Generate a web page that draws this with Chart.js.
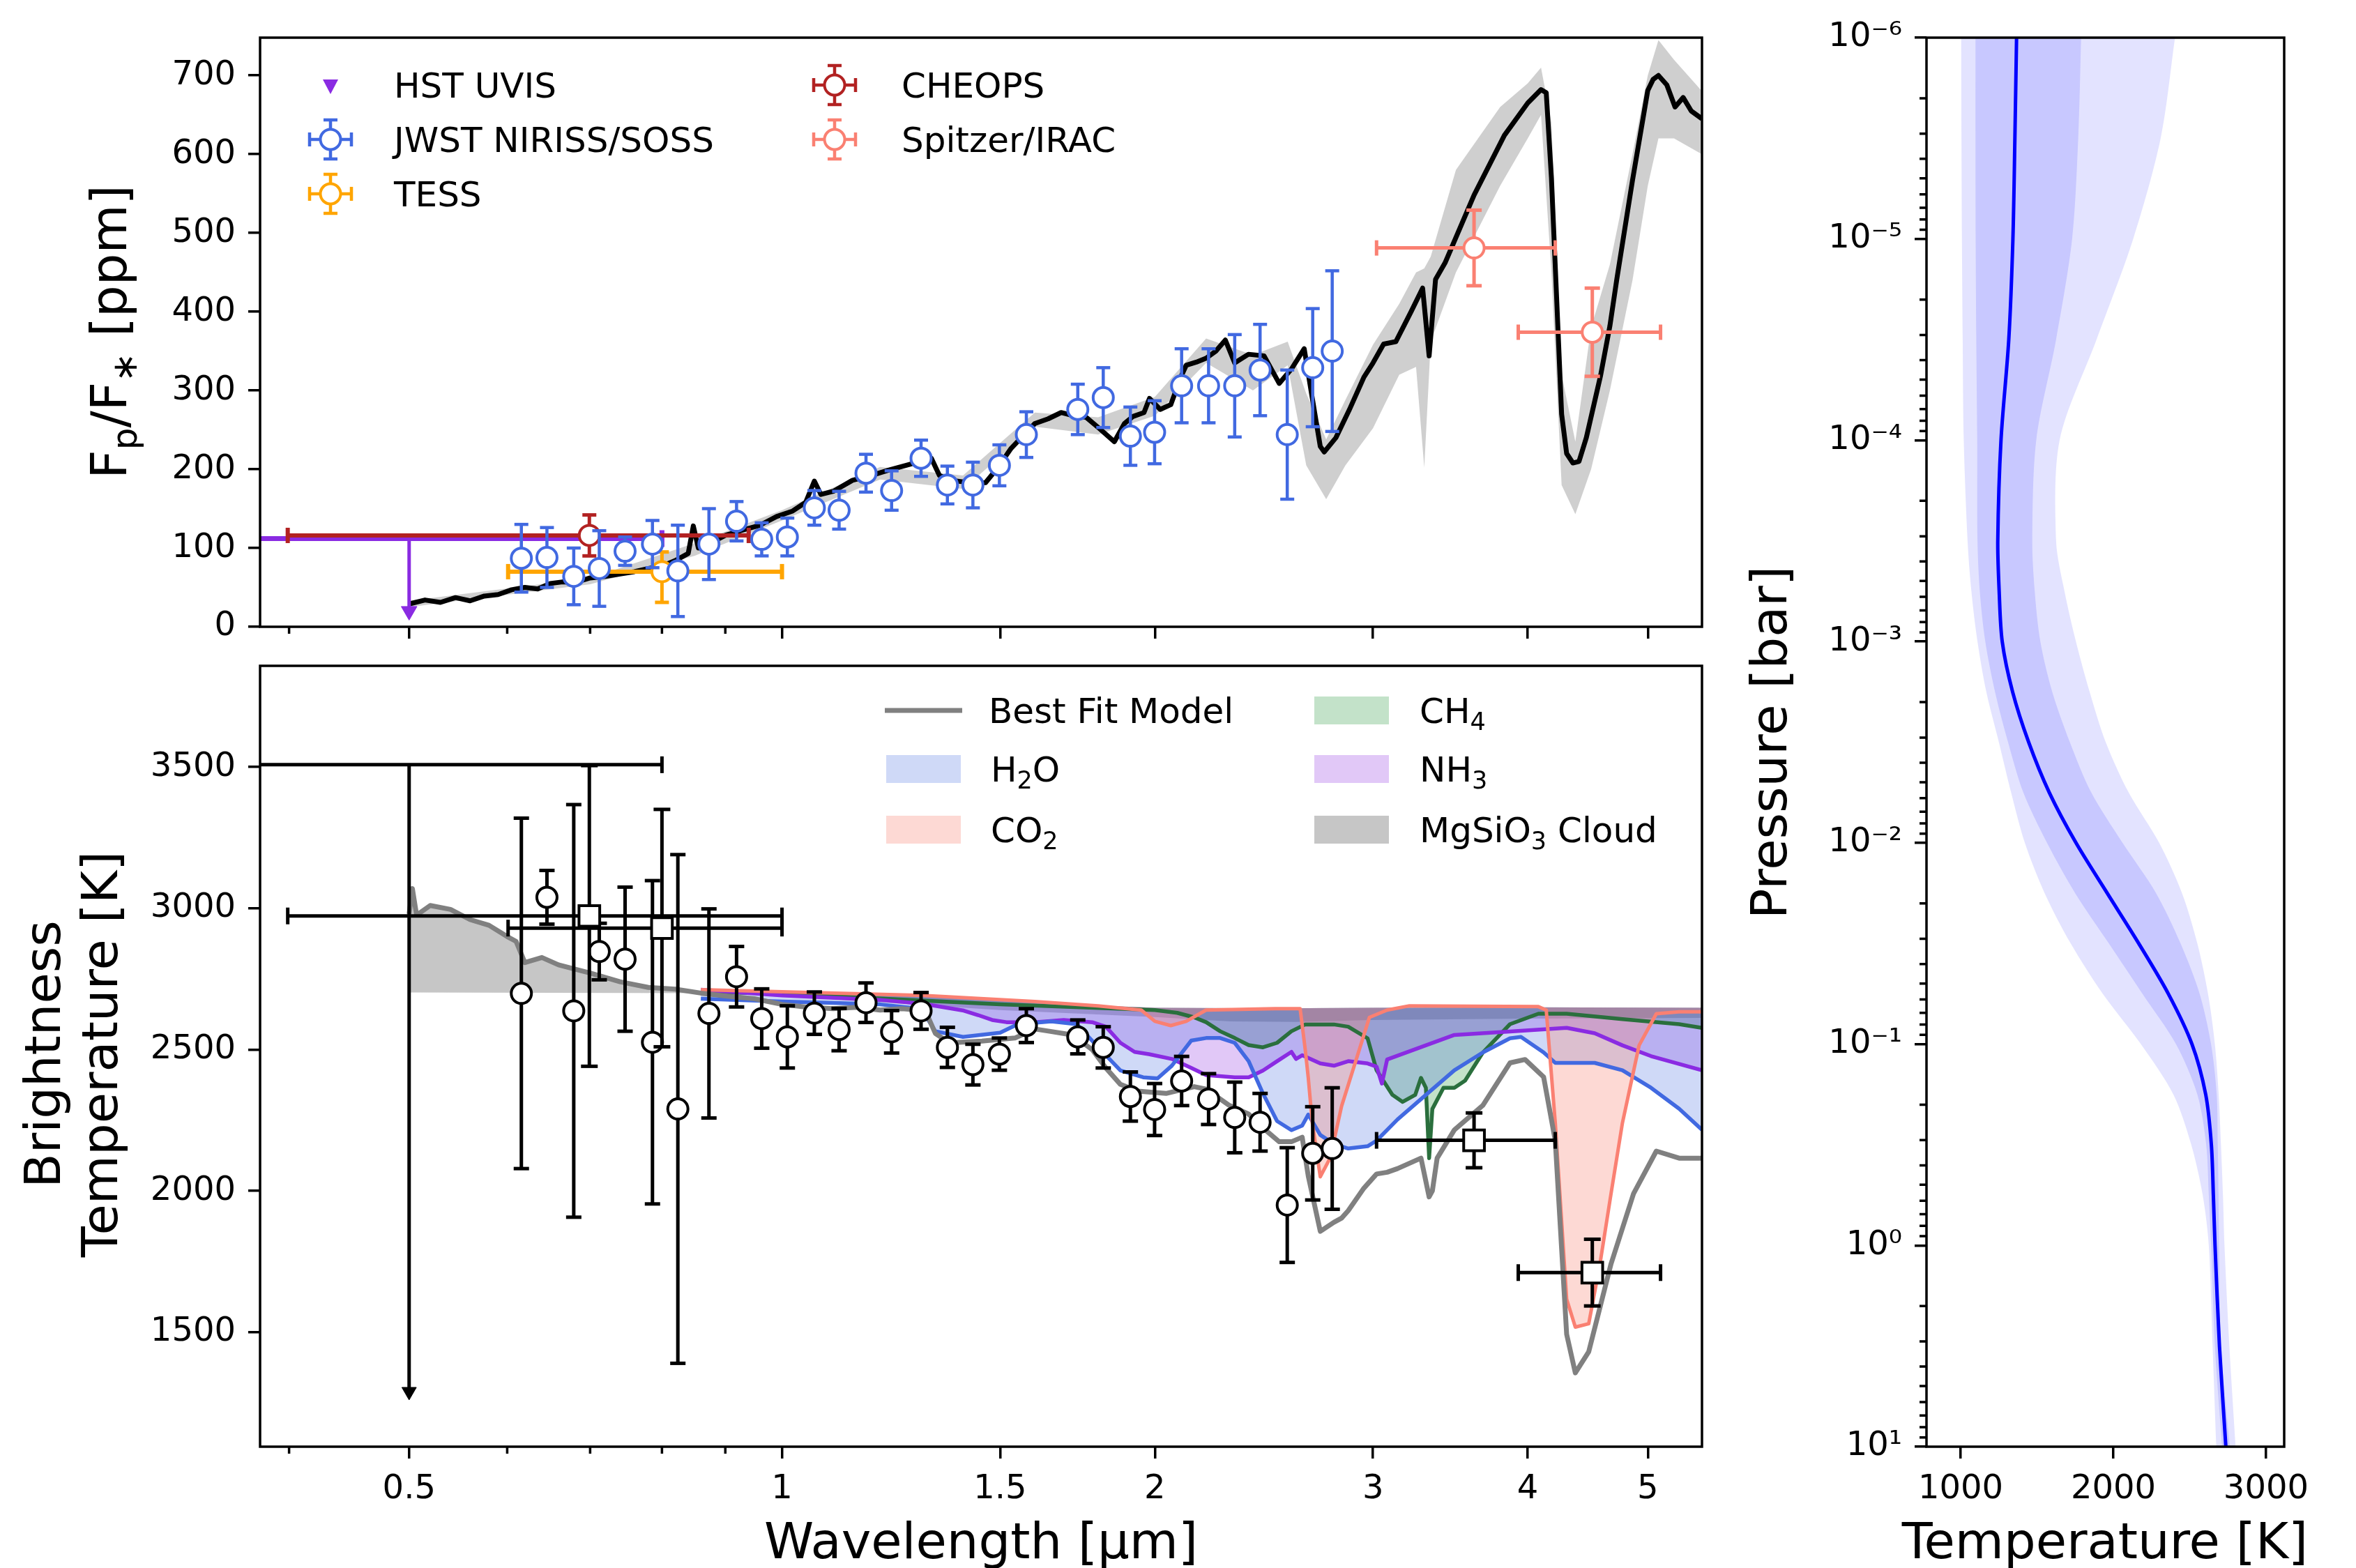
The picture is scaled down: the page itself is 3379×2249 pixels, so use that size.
<!DOCTYPE html>
<html>
<head>
<meta charset="utf-8">
<title>Emission spectrum and P-T profile</title>
<script src="https://cdn.jsdelivr.net/npm/chart.js@4.4.1/dist/chart.umd.min.js"></script>
<style>
  html, body { margin: 0; padding: 0; background: #fff; }
  body { position: relative; width: 3379px; height: 2249px; overflow: hidden; }
  canvas { position: absolute; }
</style>
</head>
<body>
<canvas id="fpChart" width="2480" height="930" style="left:0;top:0"></canvas>
<canvas id="tbChart" width="2480" height="1319" style="left:0;top:930px"></canvas>
<canvas id="ptChart" width="899" height="2249" style="left:2480px;top:0"></canvas>
<script>
// ---------- axes ----------
const xTicks = [0.5, 1, 1.5, 2, 3, 4, 5];
const xTickLabels = ['0.5', '1', '1.5', '2', '3', '4', '5'];
const xMinorTicks = [0.4, 0.6, 0.7, 0.8, 0.9];
const fpTicks = [0, 100, 200, 300, 400, 500, 600, 700];
const tbTicks = [1500, 2000, 2500, 3000, 3500];
const tTicks = [1000, 2000, 3000];
const pTicks = [1e-6, 1e-5, 1e-4, 1e-3, 1e-2, 1e-1, 1, 10];
const pTickLabels = ['10⁻⁶', '10⁻⁵', '10⁻⁴', '10⁻³', '10⁻²', '10⁻¹', '10⁰', '10¹'];

// ---------- top panel: Fp/F* [ppm] ----------
const jwstWl = [0.616,0.646,0.679,0.712,0.747,0.786,0.824,0.873,0.919,0.963,1.010,1.062,1.112,1.169,1.226,1.295,1.360,1.426,1.498,1.575,1.733,1.817,1.911,1.999,2.102,2.210,2.320,2.432,2.558,2.682,2.781];
const jwstFp = [87,88,64,74,96,105,71,105,134,111,114,151,148,195,173,214,180,180,205,244,276,291,242,247,306,306,306,326,244,329,350];
const jwstFpErr = [43,38,36,48,18,30,58,45,25,21,24,22,24,24,25,23,24,29,26,29,32,38,37,40,47,47,65,58,82,75,102];

const hstWl = [0.5], hstWlLo = [0.2], hstWlHi = [0.8];
const hstFpLimit = [112], hstFpArrow = [20];
const cheopsWl = [0.699], cheopsWlLo = [0.399], cheopsWlHi = [0.94];
const cheopsFp = [116], cheopsFpErr = [26];
const tessWl = [0.80], tessWlLo = [0.601], tessWlHi = [1.0];
const tessFp = [70], tessFpLo = [31], tessFpHi = [95];
const spitzerWl = [3.62, 4.51], spitzerWlLo = [3.02, 3.93], spitzerWlHi = [4.21, 5.12];
const spitzerFp = [481, 374], spitzerFpErr = [48, 56];

const modelWl = [0.500,0.515,0.530,0.545,0.560,0.575,0.590,0.605,0.620,0.635,
  0.650,0.665,0.680,0.700,0.720,0.740,0.760,0.780,0.800,0.820,
  0.840,0.848,0.856,0.875,0.900,0.930,0.960,0.990,1.020,1.045,
  1.062,1.075,1.100,1.140,1.180,1.220,1.260,1.300,1.320,1.340,
  1.370,1.400,1.430,1.460,1.490,1.530,1.560,1.600,1.640,1.680,
  1.720,1.760,1.800,1.855,1.890,1.920,1.960,1.980,2.020,2.060,
  2.100,2.120,2.160,2.200,2.240,2.280,2.320,2.380,2.450,2.520,
  2.580,2.640,2.680,2.720,2.740,2.800,2.870,2.950,3.000,3.060,
  3.130,3.220,3.290,3.330,3.370,3.430,3.620,3.830,4.000,4.100,
  4.140,4.180,4.220,4.260,4.300,4.350,4.400,4.460,4.580,4.660,
  4.720,4.860,5.000,5.050,5.100,5.180,5.260,5.340,5.420,5.530];
const modelFp = [29,34,31,37,33,39,41,47,50,48,
  55,57,56,62,64,67,70,74,77,84,
  93,128,100,106,116,123,129,140,147,158,
  185,168,172,186,192,199,205,211,214,192,
  186,184,182,183,200,226,240,258,264,272,
  268,266,253,235,258,267,272,290,276,282,
  318,332,336,341,350,364,335,346,344,309,
  328,353,290,229,222,240,275,317,335,359,
  362,400,430,344,441,462,548,624,665,682,
  678,570,420,270,220,208,210,240,319,382,
  441,567,681,695,700,688,660,672,655,645];

const bandWl = [0.50,0.70,0.85,1.00,1.20,1.40,1.60,1.80,2.00,2.20,2.40,2.56,2.65,2.75,2.85,3.00,3.15,3.25,3.30,3.34,3.50,3.80,4.00,4.10,4.18,4.26,4.37,4.50,4.66,4.86,5.00,5.10,5.25,5.53];
const bandLo = [25,54,90,135,187,175,254,244,268,335,300,332,205,162,205,252,320,330,202,362,450,560,620,650,450,180,143,200,300,440,560,620,620,600];
const bandHi = [33,62,106,148,203,192,272,266,292,366,345,362,296,238,288,358,410,450,455,470,580,660,690,710,640,320,235,380,460,600,700,745,720,680];

// ---------- bottom panel: brightness temperature [K] ----------
const jwstTb = [2699,3039,2637,2847,2820,2526,2290,2628,2758,2610,2545,2629,2571,2666,2563,2637,2508,2447,2484,2585,2545,2508,2334,2288,2389,2325,2260,2243,1950,2133,2150];
const jwstTbErr = [620,95,730,100,255,572,900,370,107,105,110,75,75,70,75,65,71,72,57,60,60,73,87,92,87,90,125,102,203,165,215];

const hstTbLimit = [3508], hstTbArrow = [1290];
const cheopsTb = [2973], cheopsTbErr = [532], cheopsTbWlHi = [1.0];
const tessTb = [2930], tessTbErr = [420];
const spitzerTb = [2179, 1711], spitzerTbErr = [97, 118];

const bestWl = [0.500,0.503,0.507,0.52,0.54,0.56,0.58,0.60,0.61,0.62,
  0.64,0.66,0.68,0.70,0.74,0.78,0.82,0.86,0.90,0.95,
  1.00,1.05,1.10,1.15,1.20,1.25,1.29,1.31,1.33,1.365,
  1.45,1.542,1.60,1.644,1.70,1.73,1.78,1.826,1.876,1.937,
  2.042,2.152,2.20,2.294,2.381,2.445,2.52,2.578,2.63,2.66,
  2.72,2.79,2.83,2.865,2.95,3.02,3.08,3.14,3.28,3.33,
  3.35,3.38,3.49,3.68,3.87,3.98,4.12,4.21,4.30,4.37,
  4.48,4.67,4.87,5.08,5.30,5.53];
const bestTb = [2980,3070,2976,3010,2996,2960,2940,2900,2883,2808,
  2826,2800,2785,2771,2740,2720,2714,2700,2690,2680,
  2660,2650,2645,2650,2640,2645,2640,2622,2557,2524,
  2530,2541,2573,2565,2555,2540,2500,2435,2377,2353,
  2345,2369,2360,2304,2272,2223,2174,2174,2190,2052,
  1857,1889,1904,1930,2010,2060,2066,2079,2116,1979,
  2000,2116,2216,2303,2453,2465,2403,2178,1493,1356,
  1431,1742,1991,2141,2116,2116];

const contWl = [0.5,0.86,1.0,1.3,1.6,1.8,2.0,2.5,3.0,4.0,5.53];
const contTb = [2702,2700,2700,2690,2670,2656,2648,2646,2648,2650,2648];

const h2oWl = [0.86,1.0,1.1,1.2,1.29,1.31,1.33,1.4,1.5,1.55,1.65,1.73,1.80,1.876,1.957,2.01,2.064,2.14,2.20,2.258,
  2.32,2.381,2.445,2.51,2.578,2.63,2.66,2.72,2.79,2.865,2.97,3.02,3.14,3.31,3.49,3.68,3.87,3.95,4.12,4.21,
  4.30,4.53,4.77,5.03,5.30,5.53];
const h2oTb = [2680,2670,2665,2660,2645,2610,2565,2545,2560,2590,2600,2590,2508,2426,2402,2398,2443,2532,2541,2541,
  2524,2459,2345,2247,2215,2231,2270,2198,2166,2150,2158,2178,2253,2340,2427,2490,2540,2545,2490,2453,
  2453,2453,2427,2365,2291,2216];

const nh3Wl = [0.86,1.0,1.2,1.3,1.402,1.44,1.478,1.518,1.60,1.688,1.78,1.826,1.876,1.926,1.978,2.064,2.14,2.20,2.32,2.381,
  2.445,2.51,2.578,2.60,2.63,2.72,2.79,2.865,2.97,3.02,3.05,3.08,3.49,3.87,4.30,4.53,4.77,5.03,5.53];
const nh3Tb = [2712,2692,2676,2662,2638,2622,2605,2597,2597,2605,2597,2581,2524,2492,2484,2467,2435,2410,2402,2402,
  2426,2459,2492,2467,2480,2451,2443,2459,2451,2440,2380,2465,2552,2564,2577,2558,2515,2477,2427];

const ch4Wl = [0.86,1.0,1.5,2.0,2.085,2.152,2.20,2.258,2.32,2.381,2.445,2.51,2.578,2.645,2.79,2.865,2.97,3.02,3.11,3.17,
  3.245,3.28,3.31,3.33,3.35,3.42,3.49,3.56,3.68,3.87,4.08,4.30,4.77,5.30,5.53];
const ch4Tb = [2705,2698,2660,2640,2630,2614,2597,2565,2541,2516,2508,2524,2565,2589,2589,2581,2540,2427,2340,2315,
  2340,2400,2365,2116,2290,2365,2365,2390,2490,2590,2627,2627,2608,2590,2577];

const co2Wl = [0.86,1.0,1.3,1.6,1.8,1.95,2.0,2.06,2.12,2.2,2.5,2.62,2.645,2.66,2.68,2.72,2.77,2.83,2.92,2.98,
  3.08,3.21,4.08,4.14,4.21,4.30,4.37,4.48,4.575,4.67,4.77,4.92,5.08,5.30,5.53];
const co2Tb = [2712,2705,2692,2670,2655,2640,2600,2585,2600,2640,2645,2645,2500,2400,2241,2050,2116,2300,2490,2614,
  2640,2655,2652,2640,2241,1617,1518,1530,1742,1991,2241,2515,2627,2634,2634];

const cloudWl = [0.5,0.503,0.507,0.52,0.54,0.56,0.58,0.60,0.61,0.62,0.64,0.66,0.68,0.70,0.74,0.78,0.82,0.86,1.0,1.5,2.0,2.3,2.6,3.0,4.0,5.53];
const cloudTb = [2980,3070,2976,3010,2996,2960,2940,2900,2883,2808,2826,2800,2785,2771,2740,2720,2714,2700,2690,2640,2615,2600,2598,2605,2610,2612];

// ---------- right panel: P-T profile ----------
const ptP = [1e-6,3.16e-6,1e-5,3.16e-5,1e-4,3.16e-4,5.62e-4,1e-3,1.78e-3,3.16e-3,5.62e-3,1e-2,1.78e-2,3.16e-2,5.62e-2,0.1,0.178,0.316,0.562,1,3.16,10];
const ptMedian = [1366,1355,1342,1315,1264,1243,1252,1272,1340,1445,1580,1755,1960,2166,2360,2515,2605,2642,2655,2666,2695,2737];
const ptInLo = [1097,1097,1098,1102,1108,1110,1125,1161,1225,1310,1410,1565,1750,1970,2190,2410,2550,2608,2625,2640,2665,2712];
const ptInHi = [1789,1770,1730,1625,1495,1469,1485,1522,1600,1715,1855,2060,2280,2440,2565,2640,2677,2684,2689,2693,2705,2763];
const ptOutLo = [1003,1005,1008,1013,1020,1045,1070,1110,1168,1250,1330,1420,1550,1720,1930,2180,2393,2510,2585,2625,2650,2674];
const ptOutHi = [2404,2310,2130,1890,1648,1625,1680,1755,1845,1950,2100,2300,2450,2550,2620,2665,2690,2705,2718,2728,2760,2801];

// ---------- styling ----------
const FONT = "'DejaVu Sans', sans-serif";
Chart.defaults.font.family = FONT;
Chart.defaults.font.size = 48;
Chart.defaults.color = '#000';
const AXIS_W = 3.5;
const tr = 'rgba(0,0,0,0)';
const cHst = '#8a2be2', cJwst = '#4169e1', cTess = '#ffa500', cCheops = '#b22222', cSpitzer = '#fa8072';
const cBest = '#808080';
const cH2o = '#4169e1', fH2o = 'rgba(65,105,225,0.25)';
const cCo2 = '#fa8072', fCo2 = 'rgba(250,128,114,0.3)';
const cCh4 = '#2a6f3d', fCh4 = 'rgba(40,150,60,0.28)';
const cNh3 = '#8a2be2', fNh3 = 'rgba(138,43,226,0.26)';
const fCloud = 'rgba(128,128,128,0.45)';

// ---------- helpers ----------
const pts = (xs, ys) => xs.map((x, i) => ({ x, y: ys[i] }));
function vbars(xs, lo, hi) {
  const d = [];
  xs.forEach((x, i) => d.push({ x, y: lo[i] }, { x, y: hi[i] }, { x, y: null }));
  return d;
}
function hbars(ys, lo, hi) {
  const d = [];
  ys.forEach((y, i) => d.push({ x: lo[i], y }, { x: hi[i], y }, { x: hi[i], y: null }));
  return d;
}
const minus = (a, e) => a.map((v, i) => v - e[i]);
const plus = (a, e) => a.map((v, i) => v + e[i]);

function lineSet(data, color, width, order, extra) {
  return Object.assign({ data, showLine: true, borderColor: color, borderWidth: width, borderJoinStyle: 'round',
    pointRadius: 0, pointHoverRadius: 0, fill: false, tension: 0, order, clip: 0 }, extra || {});
}
function fillSet(data, target, color, order) {
  return lineSet(data, tr, 1, order, { fill: { target }, backgroundColor: color });
}
function errSet(data, color, width, cap, rot, order) {
  return { data, showLine: true, spanGaps: false, borderColor: color, borderWidth: width, fill: false,
    pointStyle: 'line', pointRadius: cap, pointHoverRadius: cap, pointRotation: rot,
    pointBorderColor: color, pointBackgroundColor: color, pointBorderWidth: width, order, clip: 0 };
}
function markSet(data, color, style, radius, width, order, face, rot) {
  return { data, showLine: false, pointStyle: style, pointRadius: radius, pointHoverRadius: radius,
    pointRotation: rot || 0, pointBorderColor: color, pointBackgroundColor: face || '#fff',
    pointBorderWidth: width, order };
}

function fixAxis(size, horizontal) {
  return s => {
    if (horizontal) s.height = size; else s.width = size;
    s.paddingLeft = s.paddingRight = s.paddingTop = s.paddingBottom = 0;
  };
}
const setTicks = values => s => { s.ticks = values.map(v => ({ value: v })); };
const gridOpts = { drawOnChartArea: false, drawTicks: true, tickLength: 17, tickColor: '#000', tickWidth: AXIS_W, color: '#000', lineWidth: AXIS_W };

function wlAxis(showLabels, height) {
  return {
    type: 'logarithmic', min: 0.379, max: 5.53, position: 'bottom',
    afterBuildTicks: setTicks(xTicks), afterFit: fixAxis(height, true),
    ticks: { display: showLabels, autoSkip: false, maxRotation: 0, minRotation: 0, padding: 16,
      callback: v => xTickLabels[xTicks.indexOf(v)] },
    grid: gridOpts, border: { display: false }
  };
}
function valAxis(min, max, ticks, width) {
  return {
    type: 'linear', min, max, position: 'left',
    afterBuildTicks: setTicks(ticks), afterFit: fixAxis(width, false),
    ticks: { autoSkip: false, padding: 18, callback: v => String(v) },
    grid: gridOpts, border: { display: false }
  };
}
function options(padding, scales, indexAxis) {
  return { responsive: false, animation: false, events: [], devicePixelRatio: 1, indexAxis: indexAxis || 'x',
    layout: { padding }, plugins: { legend: { display: false }, tooltip: { enabled: false } }, scales };
}

// rich text: parts are [text, subscript?]; y is the centre of the capitals
function label(ctx, parts, x, y, size, align, rot) {
  if (typeof parts === 'string') parts = [[parts, false]];
  ctx.save();
  ctx.translate(x, y);
  if (rot) ctx.rotate(rot);
  ctx.fillStyle = '#000';
  ctx.textBaseline = 'alphabetic';
  ctx.textAlign = 'left';
  const fontOf = sub => (sub ? Math.round(size * 0.7) : size) + 'px ' + FONT;
  let w = 0;
  parts.forEach(p => { ctx.font = fontOf(p[1]); w += ctx.measureText(p[0]).width; });
  let cx = align === 'center' ? -w / 2 : 0;
  parts.forEach(p => {
    ctx.font = fontOf(p[1]);
    ctx.fillText(p[0], cx, 0.365 * size + (p[1] ? 0.2 * size : 0));
    cx += ctx.measureText(p[0]).width;
  });
  ctx.restore();
}

function frame(minors, extra) {
  return {
    id: 'frame',
    afterDraw(chart) {
      const { ctx, chartArea: a } = chart;
      ctx.save();
      ctx.strokeStyle = '#000';
      ctx.lineWidth = AXIS_W;
      ctx.strokeRect(a.left, a.top, a.right - a.left, a.bottom - a.top);
      minors.forEach(m => {
        const s = chart.scales[m.axis];
        ctx.beginPath();
        m.values.forEach(v => {
          const p = s.getPixelForValue(v);
          if (m.axis === 'x') { ctx.moveTo(p, a.bottom); ctx.lineTo(p, a.bottom + 10); }
          else { ctx.moveTo(a.left, p); ctx.lineTo(a.left - 10, p); }
        });
        ctx.stroke();
      });
      extra(ctx, chart);
      ctx.restore();
    }
  };
}

function errHandle(ctx, x, y, color) {
  ctx.save();
  ctx.strokeStyle = color;
  ctx.lineWidth = 4.5;
  ctx.beginPath();
  ctx.moveTo(x, y - 28); ctx.lineTo(x, y + 28);
  ctx.moveTo(x - 30, y); ctx.lineTo(x + 30, y);
  ctx.moveTo(x - 10, y - 28); ctx.lineTo(x + 10, y - 28);
  ctx.moveTo(x - 10, y + 28); ctx.lineTo(x + 10, y + 28);
  ctx.moveTo(x - 30, y - 10); ctx.lineTo(x - 30, y + 10);
  ctx.moveTo(x + 30, y - 10); ctx.lineTo(x + 30, y + 10);
  ctx.stroke();
  ctx.beginPath();
  ctx.arc(x, y, 14.5, 0, 2 * Math.PI);
  ctx.fillStyle = '#fff';
  ctx.fill();
  ctx.lineWidth = 4;
  ctx.stroke();
  ctx.restore();
}

// ---------- top chart ----------
const fpSets = [
  lineSet(pts(bandWl, bandLo), tr, 1, 30),
  fillSet(pts(bandWl, bandHi), 0, 'rgba(140,140,140,0.42)', 29),
  lineSet(pts(modelWl, modelFp), '#000', 7, 20),
  errSet(vbars(hstWl, hstFpArrow, hstFpLimit), cHst, 5, 0, 0, 12),
  errSet(hbars(hstFpLimit, hstWlLo, hstWlHi), cHst, 7, 12, 90, 12),
  markSet(pts(hstWl, hstFpArrow), cHst, 'triangle', 13, 1, 11, cHst, 180),
  errSet(hbars(cheopsFp, cheopsWlLo, cheopsWlHi), cCheops, 6, 11, 90, 10),
  errSet(vbars(cheopsWl, minus(cheopsFp, cheopsFpErr), plus(cheopsFp, cheopsFpErr)), cCheops, 5, 10, 0, 10),
  markSet(pts(cheopsWl, cheopsFp), cCheops, 'circle', 14.5, 4, 9),
  errSet(hbars(tessFp, tessWlLo, tessWlHi), cTess, 6, 11, 90, 8),
  errSet(vbars(tessWl, tessFpLo, tessFpHi), cTess, 5, 10, 0, 8),
  markSet(pts(tessWl, tessFp), cTess, 'circle', 14.5, 4, 7),
  errSet(vbars(jwstWl, minus(jwstFp, jwstFpErr), plus(jwstFp, jwstFpErr)), cJwst, 4.5, 10, 0, 4),
  markSet(pts(jwstWl, jwstFp), cJwst, 'circle', 14.5, 4, 3),
  errSet(hbars(spitzerFp, spitzerWlLo, spitzerWlHi), cSpitzer, 5, 11, 90, 2),
  errSet(vbars(spitzerWl, minus(spitzerFp, spitzerFpErr), plus(spitzerFp, spitzerFpErr)), cSpitzer, 5, 11, 0, 2),
  markSet(pts(spitzerWl, spitzerFp), cSpitzer, 'circle', 14.5, 4, 1)
];

new Chart(document.getElementById('fpChart'), {
  type: 'line',
  data: { datasets: fpSets },
  options: options({ left: 0, top: 54, right: 39, bottom: 0 }, {
    x: wlAxis(false, 31),
    y: valAxis(0, 748, fpTicks, 373)
  }),
  plugins: [frame([{ axis: 'x', values: xMinorTicks }], ctx => {
    label(ctx, [['F', false], ['p', true], ['/F', false], ['∗', true], [' [ppm]', false]], 155, 476, 72, 'center', -Math.PI / 2);
    // legend
    const rows = [122, 200, 278];
    ctx.save();
    ctx.fillStyle = cHst;
    ctx.beginPath();
    ctx.moveTo(474 - 11, rows[0] - 8); ctx.lineTo(474 + 11, rows[0] - 8); ctx.lineTo(474, rows[0] + 13);
    ctx.closePath(); ctx.fill();
    ctx.restore();
    errHandle(ctx, 474, rows[1], cJwst);
    errHandle(ctx, 474, rows[2], cTess);
    errHandle(ctx, 1197, rows[0], cCheops);
    errHandle(ctx, 1197, rows[1], cSpitzer);
    label(ctx, 'HST UVIS', 565, rows[0], 50);
    label(ctx, 'JWST NIRISS/SOSS', 565, rows[1], 50);
    label(ctx, 'TESS', 565, rows[2], 50);
    label(ctx, 'CHEOPS', 1293, rows[0], 50);
    label(ctx, 'Spitzer/IRAC', 1293, rows[1], 50);
  })]
});

// ---------- bottom chart ----------
const tbSets = [
  lineSet(pts(contWl, contTb), tr, 1, 50),
  fillSet(pts(cloudWl, cloudTb), 0, fCloud, 49),
  fillSet(pts(ch4Wl, ch4Tb), 0, fCh4, 48),
  fillSet(pts(nh3Wl, nh3Tb), 0, fNh3, 47),
  fillSet(pts(h2oWl, h2oTb), 0, fH2o, 46),
  fillSet(pts(co2Wl, co2Tb), 0, fCo2, 45),
  lineSet(pts(ch4Wl, ch4Tb), cCh4, 5.5, 38),
  lineSet(pts(nh3Wl, nh3Tb), cNh3, 5.5, 37),
  lineSet(pts(h2oWl, h2oTb), cH2o, 5.5, 36),
  lineSet(pts(co2Wl, co2Tb), cCo2, 5, 35),
  lineSet(pts(bestWl, bestTb), cBest, 7, 30),
  errSet(vbars(jwstWl, minus(jwstTb, jwstTbErr), plus(jwstTb, jwstTbErr)), '#000', 5, 11, 0, 12),
  markSet(pts(jwstWl, jwstTb), '#000', 'circle', 14.5, 4, 11),
  errSet(vbars(hstWl, hstTbArrow, hstTbLimit), '#000', 5, 0, 0, 8),
  errSet(hbars(hstTbLimit, hstWlLo, hstWlHi), '#000', 5, 12, 90, 8),
  markSet(pts(hstWl, hstTbArrow), '#000', 'triangle', 12, 1, 7, '#000', 180),
  errSet(hbars(cheopsTb, cheopsWlLo, cheopsTbWlHi), '#000', 5, 12, 90, 6),
  errSet(vbars(cheopsWl, minus(cheopsTb, cheopsTbErr), plus(cheopsTb, cheopsTbErr)), '#000', 5, 12, 0, 6),
  markSet(pts(cheopsWl, cheopsTb), '#000', 'rect', 21, 4, 5),
  errSet(hbars(tessTb, tessWlLo, tessWlHi), '#000', 5, 12, 90, 4),
  errSet(vbars(tessWl, minus(tessTb, tessTbErr), plus(tessTb, tessTbErr)), '#000', 5, 12, 0, 4),
  markSet(pts(tessWl, tessTb), '#000', 'rect', 21, 4, 3),
  errSet(hbars(spitzerTb, spitzerWlLo, spitzerWlHi), '#000', 5, 12, 90, 2),
  errSet(vbars(spitzerWl, minus(spitzerTb, spitzerTbErr), plus(spitzerTb, spitzerTbErr)), '#000', 5, 12, 0, 2),
  markSet(pts(spitzerWl, spitzerTb), '#000', 'rect', 21, 4, 1)
];

new Chart(document.getElementById('tbChart'), {
  type: 'line',
  data: { datasets: tbSets },
  options: options({ left: 0, top: 14, right: 39, bottom: 0 }, {
    x: wlAxis(true, 174),
    y: valAxis(1095, 3858, tbTicks, 373)
  }),
  plugins: [frame([{ axis: 'x', values: xMinorTicks }], ctx => {
    label(ctx, 'Brightness', 60, 582, 72, 'center', -Math.PI / 2);
    label(ctx, 'Temperature [K]', 142, 582, 72, 'center', -Math.PI / 2);
    label(ctx, 'Wavelength [µm]', 1407, 1279, 72, 'center');
    // legend
    const rows = [89, 173, 260];
    ctx.save();
    ctx.strokeStyle = cBest;
    ctx.lineWidth = 7;
    ctx.beginPath(); ctx.moveTo(1269, rows[0]); ctx.lineTo(1380, rows[0]); ctx.stroke();
    const patch = (x, y, c) => { ctx.fillStyle = c; ctx.fillRect(x, y - 20, 107, 40); };
    patch(1271, rows[1], fH2o);
    patch(1271, rows[2], fCo2);
    patch(1885, rows[0], fCh4);
    patch(1885, rows[1], fNh3);
    patch(1885, rows[2], fCloud);
    ctx.restore();
    label(ctx, 'Best Fit Model', 1418, rows[0], 50);
    label(ctx, [['H', false], ['2', true], ['O', false]], 1421, rows[1], 50);
    label(ctx, [['CO', false], ['2', true]], 1421, rows[2], 50);
    label(ctx, [['CH', false], ['4', true]], 2036, rows[0], 50);
    label(ctx, [['NH', false], ['3', true]], 2036, rows[1], 50);
    label(ctx, [['MgSiO', false], ['3', true], [' Cloud', false]], 2036, rows[2], 50);
  })]
});

// ---------- P-T chart ----------
const prof = ts => ptP.map((p, i) => ({ x: ts[i], y: p }));
const ptSets = [
  lineSet(prof(ptOutLo), tr, 1, 10, { tension: 0.3 }),
  lineSet(prof(ptOutHi), tr, 1, 9, { tension: 0.3, fill: { target: 0 }, backgroundColor: 'rgba(0,0,255,0.11)' }),
  lineSet(prof(ptInLo), tr, 1, 8, { tension: 0.3 }),
  lineSet(prof(ptInHi), tr, 1, 7, { tension: 0.3, fill: { target: 2 }, backgroundColor: 'rgba(0,0,255,0.12)' }),
  lineSet(prof(ptMedian), '#0000ff', 5, 1, { tension: 0.3 })
];
const pMinor = [];
for (let e = -6; e < 1; e++) for (let k = 2; k <= 9; k++) pMinor.push(k * Math.pow(10, e));

new Chart(document.getElementById('ptChart'), {
  type: 'line',
  data: { datasets: ptSets },
  options: options({ left: 0, top: 54, right: 103, bottom: 0 }, {
    x: {
      type: 'linear', min: 776, max: 3119, position: 'bottom',
      afterBuildTicks: setTicks(tTicks), afterFit: fixAxis(174, true),
      ticks: { autoSkip: false, maxRotation: 0, padding: 16, callback: v => String(v) },
      grid: gridOpts, border: { display: false }
    },
    y: {
      type: 'logarithmic', min: 1e-6, max: 10, reverse: true, position: 'left',
      afterBuildTicks: setTicks(pTicks), afterFit: fixAxis(283, false),
      ticks: { autoSkip: false, padding: 18, callback: v => pTickLabels[pTicks.indexOf(v)] },
      grid: gridOpts, border: { display: false }
    }
  }, 'y'),
  plugins: [frame([{ axis: 'y', values: pMinor }], ctx => {
    label(ctx, 'Pressure [bar]', 56, 1065, 72, 'center', -Math.PI / 2);
    label(ctx, 'Temperature [K]', 539, 2209, 72, 'center');
  })]
});
</script>
</body>
</html>
